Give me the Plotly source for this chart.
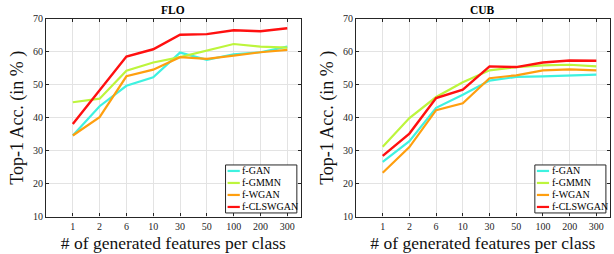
import plotly.graph_objects as go

categories = ["1", "2", "6", "10", "30", "50", "100", "200", "300"]
series_names = ["f-GAN", "f-GMMN", "f-WGAN", "f-CLSWGAN"]
colors = ["#3ef2e0", "#bdf53c", "#ff9f0f", "#ff1010"]

flo_gan = [34.6, 43.5, 49.7, 52.3, 59.8, 57.6, 59.3, 59.9, 61.6]
flo_gmmn = [44.7, 45.8, 54.3, 56.8, 58.4, 60.4, 62.4, 61.6, 61.3]
flo_wgan = [34.6, 40.2, 52.6, 54.6, 58.4, 57.9, 58.9, 59.9, 60.6]
flo_clswgan = [38.1, 48.3, 58.6, 60.8, 65.2, 65.4, 66.6, 66.3, 67.2]

cub_gan = [26.6, 32.9, 43.0, 47.0, 51.3, 52.4, 52.6, 52.9, 53.1]
cub_gmmn = [31.2, 39.9, 46.3, 50.8, 54.4, 55.4, 55.9, 56.1, 55.6]
cub_wgan = [23.3, 31.1, 42.3, 44.4, 52.0, 52.9, 54.4, 54.7, 54.4]
cub_clswgan = [28.4, 35.2, 46.0, 48.5, 55.6, 55.4, 56.8, 57.4, 57.3]

y_ticks = [10, 20, 30, 40, 50, 60, 70]
panel_titles = ["FLO", "CUB"]
x_title = "# of generated features per class"
y_title = "Top-1 Acc. (in % )"

panels = [
    [flo_gan, flo_gmmn, flo_wgan, flo_clswgan],
    [cub_gan, cub_gmmn, cub_wgan, cub_clswgan],
]

FONT = "Liberation Serif, Times New Roman, serif"
AX = "#262626"

fig = go.Figure()
axis_ids = [("x", "y"), ("x2", "y2")]
for (xa, ya), data in zip(axis_ids, panels):
    for name, vals, col in zip(series_names, data, colors):
        fig.add_trace(go.Scatter(
            x=categories, y=vals, mode="lines", name=name,
            line=dict(color=col, width=2.2 if name != "f-CLSWGAN" else 2.4),
            xaxis=xa, yaxis=ya, showlegend=False,
        ))

x_domains = [[0.0749, 0.4897], [0.5798, 0.993]]
y_domain = [0.1476, 0.9252]

common_x = dict(
    type="category", range=[-1, 8.5], showgrid=True, gridcolor="#e3e3e3", gridwidth=1,
    showline=True, linecolor=AX, linewidth=1.2, mirror="ticks",
    ticks="inside", ticklen=3, tickcolor=AX, automargin=False,
    tickfont=dict(family=FONT, size=10, color=AX),
    title=dict(text=x_title, font=dict(family=FONT, size=17.5, color="#111111"), standoff=6),
    zeroline=False,
)
common_y = dict(
    range=[10, 70], tickvals=y_ticks, showgrid=True, gridcolor="#e3e3e3", gridwidth=1,
    showline=True, linecolor=AX, linewidth=1.2, mirror="ticks",
    ticks="inside", ticklen=3, tickcolor=AX, automargin=False,
    tickfont=dict(family=FONT, size=10, color=AX),
    title=dict(text=y_title, font=dict(family=FONT, size=18, color="#111111"), standoff=4),
    zeroline=False, domain=y_domain,
)

fig.update_layout(
    width=614, height=254, autosize=False, margin=dict(l=0, r=0, t=0, b=0, pad=0, autoexpand=False),
    paper_bgcolor="white", plot_bgcolor="white",
    xaxis=dict(common_x, domain=x_domains[0], anchor="y"),
    yaxis=dict(common_y, anchor="x"),
    xaxis2=dict(common_x, domain=x_domains[1], anchor="y2"),
    yaxis2=dict(common_y, anchor="x2"),
)

# titles
for (xa, ya), t in zip(axis_ids, panel_titles):
    fig.add_annotation(
        text="<b>%s</b>" % t, xref=xa + " domain", yref=ya + " domain",
        x=0.5, y=1.0, yshift=9, showarrow=False, xanchor="center", yanchor="middle",
        font=dict(family=FONT, size=11.5, color="black"),
    )

# custom compact legend (MATLAB style)
lx0, lx1, ly0, ly1 = 0.705, 0.985, 0.018, 0.261
for xa, ya in axis_ids:
    xr, yr = xa + " domain", ya + " domain"
    fig.add_shape(type="rect", xref=xr, yref=yr, x0=lx0, x1=lx1, y0=ly0, y1=ly1,
                  line=dict(color=AX, width=1), fillcolor="white", layer="above")
    n = len(series_names)
    step = (ly1 - ly0) / n
    for i, (name, col) in enumerate(zip(series_names, colors)):
        yc = ly1 - step * (i + 0.5)
        fig.add_shape(type="line", xref=xr, yref=yr, x0=lx0 + 0.008, x1=lx0 + 0.056,
                      y0=yc, y1=yc, line=dict(color=col, width=2.2), layer="above")
        fig.add_annotation(text=name, xref=xr, yref=yr, x=lx0 + 0.058, y=yc,
                           xanchor="left", yanchor="middle", showarrow=False,
                           font=dict(family=FONT, size=10, color="black"))

fig.write_html(
    "out.html",
    config={"displayModeBar": False},
    post_script="document.body.style.margin='0';document.body.style.overflow='hidden';",
)
